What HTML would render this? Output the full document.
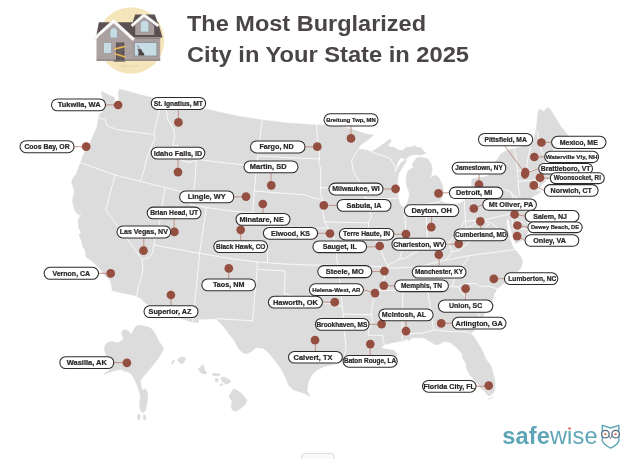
<!DOCTYPE html>
<html><head><meta charset="utf-8"><title>The Most Burglarized City in Your State in 2025</title>
<style>
html,body{margin:0;padding:0;background:#fff;}
body{width:640px;height:459px;overflow:hidden;position:relative;font-family:"Liberation Sans",sans-serif;}
svg{position:absolute;left:0;top:0;display:block}
.lb rect{fill:#fff;stroke:#2e2a2a;stroke-width:1.05}
.lb text{fill:#2a2626;stroke:#2a2626;stroke-width:0.22;font-weight:700;text-anchor:middle;font-family:"Liberation Sans",sans-serif}
.ttl{font-family:"Liberation Sans",sans-serif;font-weight:700;fill:#4b4646}
</style></head><body>
<svg width="640" height="459" viewBox="0 0 640 459">
<rect width="640" height="459" fill="#fff"/>
<g id="house">
<circle cx="131" cy="40.5" r="33.3" fill="#f5e5ba"/>
<!-- main roof -->
<path d="M98.8 22.2 L158.2 22.2 L162.4 37.6 L96 37.6 Z" fill="#5b5051"/>
<!-- main wall -->
<rect x="96.7" y="37.4" width="63.5" height="23.4" fill="#a79e9d"/>
<rect x="133" y="37.4" width="27.2" height="1.6" fill="#8f8685"/>
<!-- gable wall -->
<path d="M113.6 22.4 L131.5 39.5 L131.5 60.8 L96.7 60.8 L96.7 39 Z" fill="#aaa1a0"/>
<rect x="96.7" y="59.2" width="63.5" height="1.7" fill="#958c8b"/>
<!-- gable trim -->
<path d="M113.6 18.9 L134.8 38.6 L132.9 40.9 L113.6 23.3 L94.4 40.6 L92.6 38.3 Z" fill="#fbfafa" stroke="#e4dfdf" stroke-width="0.3"/>
<!-- dormer -->
<path d="M135.2 14.5 L154.8 14.5 L158.8 25.8 L131.5 25.8 Z" fill="#5b5051"/>
<path d="M144 17 L154.2 25.5 L154.2 35 L135.2 35 L135.2 25 Z" fill="#a79e9d"/>
<path d="M144 13.2 L159.2 24.8 L157.6 26.9 L144 17 L132.5 26.9 L130.8 24.8 Z" fill="#fbfafa" stroke="#e4dfdf" stroke-width="0.3"/>
<!-- dormer window -->
<path d="M140.4 32 L140.4 24.4 Q140.4 20.4 144.6 20.4 Q148.8 20.4 148.8 24.4 L148.8 32 Z" fill="#c6dde5" stroke="#9a9a9e" stroke-width="0.7"/>
<!-- gable window -->
<path d="M110 38 L110 31.4 Q110 27.6 113.7 27.6 Q117.4 27.6 117.4 31.4 L117.4 38 Z" fill="#c6dde5" stroke="#9a9a9e" stroke-width="0.7"/>
<!-- lower-left window -->
<rect x="103.5" y="42.6" width="8.1" height="10.7" fill="#c6dde5" stroke="#9a9a9e" stroke-width="0.7"/>
<!-- big window -->
<rect x="134.3" y="42.6" width="22.6" height="13.4" fill="#c6dde5" stroke="#8b8b8f" stroke-width="0.8"/>
<path d="M138.2 55.6 L138.6 51.5 L137.2 48.5 L138.9 49.8 L138.6 46.2 L139.8 49.6 L141.2 49 L142.1 51.6 L143.9 53.2 L144.4 55.6 Z" fill="#4d4546"/>
<path d="M136.6 44.8 L138.3 47.6 M138.9 45.4 L139.1 47.2" stroke="#6b6566" stroke-width="0.35" fill="none"/>
<!-- door -->
<rect x="116" y="42.5" width="8.4" height="17.6" fill="#5b5051"/>
<rect x="117.2" y="43.6" width="6" height="15.8" fill="#6a5f60"/>
<circle cx="123" cy="52.3" r="0.55" fill="#2f2a2a"/>
<path d="M114.3 48.3 L125.8 45.4 L125.8 46.9 L114.3 49.9 Z" fill="#e9bb55"/>
<path d="M114.3 52.9 L125.8 56.2 L125.8 57.8 L114.3 54.5 Z" fill="#e9bb55"/>
<rect x="113.6" y="60.2" width="11.6" height="1.5" fill="#6f6667"/>
<!-- debris -->
<path d="M120 65.2 l3 .4 l1 -.6 M125 66 l2.4 .2 M128.6 65 l1.2 1.2 l2 -.4 M133.5 66.3 l2.5 .1 M137 65.4 l1.6 .8 M122.5 66.8 l1.5 .3" stroke="#cfc19f" stroke-width="0.5" fill="none" stroke-linecap="round"/>
</g>

<text class="ttl" x="187" y="30.6" font-size="21.6" textLength="239" lengthAdjust="spacingAndGlyphs">The Most Burglarized</text>
<text class="ttl" x="187" y="62.1" font-size="21.6" textLength="282" lengthAdjust="spacingAndGlyphs">City in Your State in 2025</text>
<g fill="#dcdcdc" stroke="#dcdcdc" stroke-width="0.6" stroke-linejoin="round">
<path d="M101.8 91.4 L105.7 93.4 L110.4 95.8 L114.3 97.3 L115.1 98.9 L113.8 102 L114.6 105.5 L117 107 L118.6 104 L119 99.7 L118.2 94.2 L119.4 89.1 L140 94.8 L160 99.5 L182 104.3 L205 109 L222 112.8 L240 116.5 L262 120 L287 123 L316 125 L337 126 L345 127.4 L356 130.6 L365.5 133.7 L373.4 135.2 L369 139 L364 142.5 L360 145.5 L357.6 150.2 L361 149.2 L364.5 150 L368.5 150.6 L372.7 151.2 L378.4 147.6 L384 143.4 L388.3 140.3 L390.4 139.5 L391.3 140.8 L388 145.5 L389.4 146.9 L394 147.3 L398.8 150.2 L402.5 150.6 L406.3 147.3 L412.8 146.9 L414.7 145 L415.6 147.3 L421.3 147.8 L424 151.6 L426 153.4 L422.2 154.4 L419.4 155.3 L417.5 154.4 L411.9 154.8 L408.1 156.7 L405.3 160 L403.4 158.1 L400.2 158.1 L397.8 161.9 L396.4 166.6 L394 171.3 L395.6 172.4 L397.6 168 L400.8 163 L404.6 160.2 L405.6 159.8 L406.4 160.8 L402.4 167.4 L398.9 173 L397.5 178.7 L397.2 188.8 L398.2 198 L400.3 204.7 L402.2 206.6 L405 206.6 L407.8 201.9 L409.5 194.4 L408.5 190 L406.7 185.8 L406 178.7 L407.4 171.7 L410.5 169 L413.7 167.4 L412.2 165 L413 162.5 L415.2 160 L416.6 157.8 L422.2 157.5 L427.9 159 L430.7 163.2 L432.1 168.8 L431.4 174.5 L429.3 179.5 L432.1 176.6 L435.7 175.2 L439.2 178 L442 184.4 L443.3 190 L442.5 196 L440 201 L446 203.2 L453 204.3 L460 203.6 L464 200.5 L466 196 L468.5 190.5 L471.6 186.8 L471.8 179.3 L476 178.2 L482 177.5 L488 176 L491 171 L492.2 164.7 L496.9 160 L500.6 154.4 L506.3 150.6 L514.7 148.4 L524 146 L532.5 144 L534.4 137.5 L536.3 130 L537.2 120.6 L538.1 111.3 L540 109.2 L543.8 111.5 L547.5 107.5 L550.3 109.4 L555 116.9 L560.6 126.3 L566.3 133.1 L568.1 135.8 L565 139.5 L560 144 L554 148.5 L548 153.5 L545.3 158 L545 162 L547 167 L549 171.5 L553.5 173 L555 176 L551 177.5 L547 179.5 L543 183 L539 188.4 L535.3 192.3 L540 190.5 L541 192 L533 196.5 L527 199.5 L525.5 204 L524.8 210 L526 216 L527 222 L528 228 L527 234 L524 238.5 L519.5 241.8 L515.3 243.4 L513.6 239 L511.6 232 L509.9 225 L508.7 219.6 L507.4 218.2 L506.5 221.5 L507.3 228 L509.2 236 L511.2 242.5 L512.8 247 L514.7 249.2 L518.2 253.4 L521.7 258.3 L522.4 263.3 L520.3 269 L516 272.5 L509 278 L502.6 284.5 L497 288.7 L494 294.4 L492.4 301 L488.5 308 L484.7 313 L480 321 L474.4 330 L470.6 333.8 L473.3 336 L477.7 342.8 L482.4 350.7 L485.5 358.5 L491 366.3 L493.4 374.2 L495 382 L494.8 388 L494.2 391.4 L492.5 394 L490.2 395.5 L488 395.3 L486.3 393.8 L484 390.6 L480.8 388.3 L475.3 380.5 L469.9 375 L466.7 368.7 L465.9 363.2 L462.8 358.5 L462 353.8 L457.3 348.3 L451 342.8 L444.8 341.3 L438.5 344.4 L435 344.6 L432.2 342.8 L426 339 L422.5 337.8 L411.3 337.8 L409.4 340.8 L406.5 339 L403.8 340.8 L397 341.8 L392 342.8 L384.4 344.7 L380.6 347.5 L385 349 L393.8 350.3 L397.5 354.5 L394 358 L388 357 L382 359.5 L374 358 L366 359.5 L356 358.5 L349 360 L343 360.6 L333.8 364.4 L324.4 366.3 L316.9 370 L311.3 375.6 L308 383 L307 390.6 L310 396.3 L305 393.8 L299 391.5 L293.8 390 L288.5 385 L285.3 376.5 L280.6 368 L275 360.6 L269.4 353.5 L263.8 348.6 L256.3 347.5 L251.6 351.3 L246.9 354 L242.5 352.5 L239.4 349.4 L233.8 340 L228 332.5 L222.5 325 L216 318.8 L198.6 319.2 L198.3 322.6 L192.6 322.2 L183.4 319.2 L170 314.5 L158 309.8 L146.2 303.8 L141 298.6 L137 296.2 L133.8 295.3 L122 292.8 L112.2 290.6 L111.5 285 L110.3 280.3 L104.7 275.6 L100 268.5 L92.5 261.6 L86 256.9 L85 249.4 L82.8 247.3 L81.3 240 L79 235 L81 232.3 L79 228.5 L78.1 220 L80 216.5 L81.9 214.4 L78.6 215 L75.3 211.6 L73.5 206 L72.5 200.4 L74.4 191 L71.6 182.6 L73 178 L76.3 174 L80 164 L83.8 153.8 L90.3 142.5 L94 134 L96.9 127.5 L98.4 118.5 L99.5 114.2 L103.2 111.4 L103.2 104 L102.6 98 L101.8 95Z"/>
<path d="M137.5 325 L143.8 326 L150 327.5 L153.8 331.3 L156.9 337.5 L158.8 341.3 L163.8 348.6 L160.6 354.4 L158.8 357.5 L150 368.8 L142.5 377.5 L140.3 381.3 L141.3 386.5 L142.6 390.6 L144.5 389 L146.3 389.6 L147.4 393 L147.7 397.5 L147.2 402 L146.3 406.3 L145.5 410 L143.8 412.3 L141.5 412 L140.2 409.5 L139.6 402.5 L140.3 398 L140 394 L138.8 390 L137.5 386.3 L136.2 383 L135 380 L131.3 373.8 L127.5 371.6 L124 371.2 L122.5 369.2 L119.4 369.6 L115 370.6 L111.9 371.5 L106.3 373.4 L103.6 374.3 L107.5 371.6 L112 368.6 L110 365 L108 360 L106.3 355.3 L104.4 349.7 L105.2 345 L108.1 342.3 L111.9 341.3 L116 342.8 L118.8 342.5 L121.6 340.8 L123.8 338.8 L122.3 335.5 L121.3 332.5 L122.8 330.5 L125 329.5 L128.8 331.3 L131.3 334.8 L133 331 L135 327.5Z"/>
<path d="M233.7 388.9 L237.5 390.5 L241.5 393.6 L244.5 397 L247 400.6 L244.6 405.3 L240 408.8 L235.2 411.6 L232.6 410 L231.3 407.7 L232.1 401.4 L229 396.7 L231.3 392Z"/>
<path d="M177.6 359.1 L181.2 357.2 L184.8 357.2 L185.2 359.9 L182.7 363.8 L180.1 363 L177.6 360.7Z"/>
<path d="M171.3 363.5 L173.3 359.9 L174.6 360.4 L172.5 364.1Z"/>
<path d="M198.4 368.5 L201.1 366.9 L202.3 364.6 L203.9 366.2 L204.7 370.1 L207 373.2 L204.7 374 L201.1 372.9 L199.2 370.9Z"/>
<path d="M211.7 374 L214.9 373.2 L220.3 374 L219.6 375.6 L214.1 375.9Z"/>
<path d="M215.2 378.7 L218 378.4 L218.3 380.3 L216.7 382.6 L215.2 380.7Z"/>
<path d="M220.8 377.9 L223.5 377.1 L225.8 377.9 L229.7 379.8 L230.5 381.8 L228.2 383.4 L225.5 384.2 L223.9 382.3 L221.9 381Z"/>
<path d="M220 384.2 L222.4 383.4 L222.7 385 L220.8 386.1Z"/>
<path d="M137.8 414.5 L139.8 414 L140.2 417 L139 420.5 L137.6 419Z"/>
<path d="M143.3 415.2 L145.2 415 L146 418 L145 420.6 L143.6 419Z"/>
<path d="M491.2 397.6 l1.2 -0.6 l0.5 0.7 l-1.3 0.7z M488.6 398.6 l1.4 -0.4 l0.2 0.7 l-1.5 0.4z"/>
</g>
<g fill="none" stroke="#fff" stroke-width="0.8" stroke-linejoin="round" stroke-linecap="round">
<path d="M98.4 117.6 L105.5 120 L107 125.5 L116.4 129.4 L127.4 131 L138.4 132.5 L153.5 134.5"/>
<path d="M160.6 99.6 L159.7 109.7 L154 133 L155 138.8 L151.3 146.3 L147 157.5 L144 170 L140.5 181.3"/>
<path d="M80 162.5 L115 175 L140 181.3 L165 187.5 L180 191.3 L193.5 193.8"/>
<path d="M115 175 L105.8 210 L142.2 259.7"/>
<path d="M165 187.5 L160 220 L153.8 245 L152.8 252 L149.5 257.5 L142.8 259.7"/>
<path d="M142.2 259.7 L143 270 L141.3 277.5 L138.4 287 L136.8 296"/>
<path d="M166.3 101 L166.3 109.7 L168 120 L173.8 129.4 L174.7 136.9 L172.5 145.5 L177.5 145.3 L180 153 L182 160.5 L189 162.5 L196.3 160.5"/>
<path d="M196.5 159.6 L195.3 176 L193.5 193.8 L190.3 204.7"/>
<path d="M190.3 204.7 L206.3 207.5 L230 210.8 L252.5 213 L268.3 214.6"/>
<path d="M206.3 207.5 L199.6 253.3"/>
<path d="M196.3 159.4 L225 162.8 L256.5 166.5"/>
<path d="M262 120.3 L258 155.6 L256.5 166.5 L254.4 191 L252.5 213"/>
<path d="M258 155.8 L290 157.7 L320 159"/>
<path d="M254.4 191 L280 193 L305 194.7 L312.5 197.5 L318.8 199 L323 201"/>
<path d="M316.4 125 L317.6 138.9 L319 150 L319.7 158.8 L318.8 164.4 L320.6 168 L320.6 194.4 L323.4 200 L322.8 210.6 L323.4 215 L324.4 221.6 L328.4 228 L335 240.6 L336.6 253.8 L337.6 265.3"/>
<path d="M320.6 187.8 L356.5 188.2"/>
<path d="M324.4 221.6 L350 222.6 L368.4 222.7"/>
<path d="M268.3 214.6 L267.9 226.3 L300 227.6 L327.8 228.2"/>
<path d="M267.9 226.3 L267.5 262.6"/>
<path d="M153.8 245 L199.6 253.3 L230 258.5 L257 262 L285 264 L310 265 L337.6 265.3"/>
<path d="M199.6 253.3 L192.8 322"/>
<path d="M257 262 L257.2 269.3 L285.3 271 L284.4 293.5"/>
<path d="M257.2 269.3 L252.5 320.8"/>
<path d="M216 318.6 L252.5 320.8"/>
<path d="M284.4 293.5 L291.9 295.4 L300 298.5 L310 299 L320 302.5 L330 303.5 L342.3 306.5"/>
<path d="M337.6 265.3 L341 290 L342.3 306.5 L343.2 314 L344 328.8 L346 347.5 L345 352 L344 360"/>
<path d="M343.2 314 L372.2 314.7"/>
<path d="M337.6 265.3 L360 266 L381 266.5 L380.5 270.5 L385.5 271"/>
<path d="M357.6 150.2 L351.6 160.6 L353.4 171.9 L358 179.4 L362 184 L364.7 196.3 L369 204 L370.3 212.2 L371.3 217 L368.4 222.5 L369 231 L373 238 L378 243 L381 250 L385.3 261.3 L388 265 L386 271 L384.4 278 L380 288 L374 298.8 L372.2 306.3 L371.3 313.8 L372.5 322 L368.4 330.6 L368.4 335.3 L382.5 335.3 L383.5 341 L384.4 344.7"/>
<path d="M368.5 150.5 L379 154.6 L389.7 158.2 L393 162.5 L395.4 167.4"/>
<path d="M365 198.6 L398.2 198.4"/>
<path d="M404 206.6 L405.5 225 L406 236 L404 246 L401 254 L399.5 259"/>
<path d="M388 265 L393 262.5 L399.5 259 L406 258 L412 254 L418 251 L423 246 L428 243.5 L433 245.5 L439 248.5 L444 247 L449 243 L453 238 L458 233 L461.5 227 L463.5 221"/>
<path d="M426 204.5 L427.5 243.5"/>
<path d="M404.5 206.6 L426 204.5 L440 201.5"/>
<path d="M464.2 195.5 L465.3 221.5"/>
<path d="M465.3 221.5 L485 219.5 L502 215.8 L511.5 213.3"/>
<path d="M466.5 194 L485 192.3 L505 189.5 L511 192 L514 196 L517.5 199.5"/>
<path d="M511 192 L513.5 200 L512 206 L515.5 210.5 L512.5 214.5 L517 220 L524 223"/>
<path d="M514 196 L524 201.5"/>
<path d="M388 268 L400 267.8 L420 266.5 L446.9 259.7 L470 255.5 L495 252.3 L516.5 249.3"/>
<path d="M379 290.3 L400 290.4 L420 290.3 L440 288.5 L452 286.5"/>
<path d="M470 255.5 L463 265 L456 275 L452 286.5"/>
<path d="M403 290.4 L402.2 320 L402.2 341"/>
<path d="M427.6 290 L430.8 310 L433 326 L434 330"/>
<path d="M402.2 334.3 L423 333 L434 330 L450 331.5 L468 332 L470.6 333.8"/>
<path d="M452 286.5 L458 287 L463 294 L470 302 L476 310 L481 319"/>
<path d="M458 287 L466 283.5 L476 283.5 L480 286.5 L488 286 L497 288.8"/>
<path d="M449 243 L452 252 L447 258.5"/>
<path d="M452 252 L460 250 L468 243 L476 236 L484 229.5 L489 224"/>
<path d="M465.3 221.5 L466 228 L472 226 L478 221"/>
<path d="M478 221 L486 221.5 L492 223.5 L497 228 L501 233 L506 237 L510.5 240"/>
<path d="M511.5 213.3 L513.5 229.5 L527 229"/>
<path d="M514.4 149 L516 158 L517 166 L517.8 175 L518.5 188 L520 196"/>
<path d="M530.7 147.5 L528.5 155 L527 163 L526.3 171"/>
<path d="M517.4 170.5 L526.3 171 L540 169 L547 166.5"/>
<path d="M518 181.5 L530 180.5 L538.5 179.5"/>
<path d="M538.5 179.5 L538.5 188.5"/>
<path d="M538.5 179.5 L543 177.5 L546 180"/>
<path d="M546.5 157.5 L541 150 L539 140 L537 131"/>
</g>
<g stroke="#b57f70" stroke-width="0.8"><line x1="105.5" y1="104.9" x2="118.1" y2="104.9"/><line x1="74.0" y1="146.7" x2="86.2" y2="146.7"/><line x1="178.4" y1="109.4" x2="178.4" y2="122.4"/><line x1="178.0" y1="159.0" x2="178.0" y2="172.1"/><line x1="305.0" y1="146.9" x2="317.3" y2="146.9"/><line x1="271.0" y1="172.8" x2="271.0" y2="185.3"/><line x1="233.8" y1="196.9" x2="246.0" y2="196.9"/><line x1="263.0" y1="213.4" x2="263.0" y2="204.0"/><line x1="174.1" y1="218.8" x2="174.1" y2="231.9"/><line x1="143.8" y1="237.9" x2="143.8" y2="250.7"/><line x1="240.7" y1="240.7" x2="240.7" y2="229.8"/><line x1="317.6" y1="233.3" x2="330.0" y2="233.3"/><line x1="98.5" y1="273.3" x2="110.7" y2="273.3"/><line x1="171.0" y1="305.7" x2="171.0" y2="295.0"/><line x1="228.7" y1="279.0" x2="228.7" y2="268.4"/><line x1="113.8" y1="362.6" x2="126.9" y2="362.6"/><line x1="351.0" y1="125.9" x2="351.0" y2="138.4"/><line x1="383.0" y1="189.0" x2="395.6" y2="189.0"/><line x1="337.1" y1="205.4" x2="323.8" y2="205.4"/><line x1="393.8" y1="234.2" x2="406.0" y2="234.2"/><line x1="366.6" y1="246.8" x2="379.7" y2="246.8"/><line x1="371.8" y1="271.6" x2="384.4" y2="271.6"/><line x1="363.4" y1="289.7" x2="375.0" y2="293.1"/><line x1="394.7" y1="285.8" x2="383.8" y2="285.8"/><line x1="322.4" y1="302.2" x2="334.7" y2="302.2"/><line x1="369.0" y1="324.4" x2="381.6" y2="324.4"/><line x1="406.0" y1="320.8" x2="406.0" y2="331.1"/><line x1="315.4" y1="351.4" x2="315.4" y2="340.2"/><line x1="370.1" y1="355.4" x2="370.1" y2="344.1"/><line x1="476.0" y1="386.3" x2="488.7" y2="386.3"/><line x1="452.3" y1="323.2" x2="441.2" y2="323.2"/><line x1="465.6" y1="300.0" x2="465.6" y2="288.6"/><line x1="504.4" y1="278.7" x2="493.8" y2="278.7"/><line x1="439.1" y1="266.3" x2="439.1" y2="254.6"/><line x1="445.7" y1="244.2" x2="458.7" y2="244.2"/><line x1="431.6" y1="216.5" x2="431.6" y2="227.2"/><line x1="449.4" y1="192.8" x2="438.5" y2="192.8"/><line x1="479.0" y1="174.0" x2="479.0" y2="184.6"/><line x1="482.8" y1="204.6" x2="473.8" y2="208.5"/><line x1="480.8" y1="229.0" x2="480.8" y2="221.3"/><line x1="504.5" y1="145.7" x2="525.2" y2="173.2"/><line x1="551.6" y1="142.4" x2="541.4" y2="142.4"/><line x1="544.7" y1="156.9" x2="534.3" y2="156.9"/><line x1="538.7" y1="168.8" x2="525.2" y2="173.2"/><line x1="550.3" y1="178.2" x2="540.0" y2="178.2"/><line x1="544.3" y1="190.6" x2="533.8" y2="185.4"/><line x1="525.2" y1="216.1" x2="514.6" y2="214.3"/><line x1="527.9" y1="227.3" x2="517.4" y2="225.5"/><line x1="525.0" y1="240.5" x2="517.1" y2="236.1"/></g>
<g fill="#954f40"><circle cx="118.1" cy="105" r="4.35"/><circle cx="86.2" cy="146.6" r="4.35"/><circle cx="178.4" cy="122.4" r="4.35"/><circle cx="178" cy="172.1" r="4.35"/><circle cx="317.3" cy="146.7" r="4.35"/><circle cx="271.3" cy="185.3" r="4.35"/><circle cx="246" cy="196.6" r="4.35"/><circle cx="262.8" cy="204" r="4.35"/><circle cx="174.4" cy="231.9" r="4.35"/><circle cx="143.5" cy="250.7" r="4.35"/><circle cx="240.7" cy="229.8" r="4.35"/><circle cx="330" cy="233.5" r="4.35"/><circle cx="110.7" cy="273.4" r="4.35"/><circle cx="170.9" cy="295" r="4.35"/><circle cx="228.8" cy="268.4" r="4.35"/><circle cx="126.9" cy="362.8" r="4.35"/><circle cx="351" cy="138.4" r="4.35"/><circle cx="395.6" cy="188.8" r="4.35"/><circle cx="323.8" cy="205.4" r="4.35"/><circle cx="406" cy="234.1" r="4.35"/><circle cx="379.7" cy="246" r="4.35"/><circle cx="384.4" cy="271.2" r="4.35"/><circle cx="375" cy="293.1" r="4.35"/><circle cx="383.8" cy="285.6" r="4.35"/><circle cx="334.7" cy="302.2" r="4.35"/><circle cx="381.6" cy="324.1" r="4.35"/><circle cx="406" cy="331.1" r="4.35"/><circle cx="315" cy="340.2" r="4.35"/><circle cx="370.3" cy="344.1" r="4.35"/><circle cx="488.7" cy="385.6" r="4.35"/><circle cx="441.2" cy="323.4" r="4.35"/><circle cx="465.6" cy="288.6" r="4.35"/><circle cx="493.8" cy="278.8" r="4.35"/><circle cx="438.8" cy="254.6" r="4.35"/><circle cx="458.7" cy="243.8" r="4.35"/><circle cx="431.3" cy="227.2" r="4.35"/><circle cx="438.5" cy="193.4" r="4.35"/><circle cx="479" cy="184.6" r="4.35"/><circle cx="473.8" cy="208.5" r="4.35"/><circle cx="480.3" cy="221.3" r="4.35"/><ellipse cx="525.2" cy="173.2" rx="4.2" ry="5.6" transform="rotate(8 525.2 173.2)"/><circle cx="541.4" cy="142.5" r="4.35"/><circle cx="534.3" cy="157" r="4.35"/><circle cx="540" cy="177.7" r="4.35"/><circle cx="533.8" cy="185.4" r="4.35"/><circle cx="514.6" cy="214.3" r="4.35"/><circle cx="517.4" cy="225.5" r="4.35"/><circle cx="517.1" cy="236.1" r="4.35"/></g>
<g class="lb"><rect x="51.5" y="99" width="54.0" height="11.8" rx="5.90"/><text x="79.2" y="107.39" font-size="7.43">Tukwila, WA</text><rect x="20" y="140.7" width="54.0" height="12.0" rx="6.00"/><text x="47.0" y="149.00" font-size="6.87">Coos Bay, OR</text><rect x="151.3" y="97.5" width="54.3" height="11.9" rx="5.95"/><text x="178.4" y="105.68" font-size="6.65">St. Ignatius, MT</text><rect x="151.2" y="147.2" width="53.6" height="11.8" rx="5.90"/><text x="178.0" y="155.50" font-size="7.16">Idaho Falls, ID</text><rect x="250.5" y="140.9" width="54.5" height="12.1" rx="6.05"/><text x="276.6" y="149.36" font-size="7.18">Fargo, ND</text><rect x="244" y="161" width="54.0" height="11.8" rx="5.90"/><text x="268.2" y="169.39" font-size="7.44">Martin, SD</text><rect x="179.6" y="191" width="54.2" height="11.8" rx="5.90"/><text x="206.7" y="199.40" font-size="7.45">Lingle, WY</text><rect x="236" y="213.4" width="54.0" height="11.9" rx="5.95"/><text x="261.6" y="221.81" font-size="7.33">Minatare, NE</text><rect x="147.2" y="207.1" width="53.8" height="11.7" rx="5.85"/><text x="174.1" y="215.19" font-size="6.70">Brian Head, UT</text><rect x="117" y="226" width="53.7" height="11.9" rx="5.95"/><text x="143.8" y="234.32" font-size="7.06">Las Vegas, NV</text><rect x="213.8" y="240.7" width="53.7" height="11.8" rx="5.90"/><text x="240.7" y="248.78" font-size="6.51">Black Hawk, CO</text><rect x="263.4" y="227.5" width="54.2" height="11.7" rx="5.85"/><text x="290.5" y="235.73" font-size="7.09">Elwood, KS</text><rect x="44.1" y="267.3" width="54.4" height="12.0" rx="6.00"/><text x="71.3" y="275.65" font-size="7.01">Vernon, CA</text><rect x="144" y="305.7" width="54.0" height="11.8" rx="5.90"/><text x="170.0" y="314.04" font-size="7.28">Superior, AZ</text><rect x="201.8" y="279" width="53.7" height="11.8" rx="5.90"/><text x="228.7" y="287.31" font-size="7.18">Taos, NM</text><rect x="59.8" y="356.7" width="54.0" height="11.8" rx="5.90"/><text x="86.8" y="365.10" font-size="7.45">Wasilla, AK</text><rect x="324" y="113.8" width="54.0" height="12.1" rx="6.05"/><text x="351.0" y="121.81" font-size="5.86">Breitung Twp, MN</text><rect x="329" y="183.1" width="54.0" height="11.8" rx="5.90"/><text x="356.0" y="191.35" font-size="7.01">Milwaukee, WI</text><rect x="337.1" y="199.4" width="53.9" height="11.9" rx="5.95"/><text x="364.1" y="207.78" font-size="7.24">Sabula, IA</text><rect x="339.4" y="228.4" width="54.4" height="11.5" rx="5.75"/><text x="366.6" y="236.39" font-size="6.68">Terre Haute, IN</text><rect x="312.9" y="241" width="53.7" height="11.6" rx="5.80"/><text x="339.8" y="249.20" font-size="7.16">Sauget, IL</text><rect x="317.8" y="265.6" width="54.0" height="12.0" rx="6.00"/><text x="344.8" y="274.10" font-size="7.45">Steele, MO</text><rect x="309.4" y="283.8" width="54.0" height="11.8" rx="5.90"/><text x="336.4" y="291.73" font-size="6.07">Helena-West, AR</text><rect x="394.7" y="279.9" width="53.7" height="11.7" rx="5.85"/><text x="421.5" y="287.96" font-size="6.59">Memphis, TN</text><rect x="268.4" y="296.3" width="54.0" height="11.8" rx="5.90"/><text x="295.4" y="304.70" font-size="7.45">Haworth, OK</text><rect x="315.4" y="318.5" width="53.6" height="11.8" rx="5.90"/><text x="341.9" y="326.58" font-size="6.51">Brookhaven, MS</text><rect x="378.8" y="309" width="54.3" height="11.8" rx="5.90"/><text x="404.0" y="317.29" font-size="7.13">McIntosh, AL</text><rect x="288.5" y="351.4" width="53.8" height="11.6" rx="5.80"/><text x="313.0" y="359.69" font-size="7.45">Calvert, TX</text><rect x="343.1" y="355.4" width="54.1" height="11.8" rx="5.90"/><text x="370.1" y="363.46" font-size="6.45">Baton Rouge, LA</text><rect x="422.5" y="380.4" width="53.5" height="11.8" rx="5.90"/><text x="449.2" y="388.70" font-size="7.15">Florida City, FL</text><rect x="452.3" y="317.3" width="53.7" height="11.8" rx="5.90"/><text x="479.1" y="325.64" font-size="7.29">Arlington, GA</text><rect x="438.4" y="300" width="54.4" height="12.2" rx="6.10"/><text x="465.6" y="308.43" font-size="6.95">Union, SC</text><rect x="504.4" y="272.8" width="53.4" height="11.8" rx="5.90"/><text x="532.3" y="280.93" font-size="6.65">Lumberton, NC</text><rect x="412.2" y="266.3" width="53.8" height="11.8" rx="5.90"/><text x="439.1" y="274.36" font-size="6.45">Manchester, KY</text><rect x="391.9" y="238.3" width="53.8" height="11.9" rx="5.95"/><text x="418.8" y="246.57" font-size="6.93">Charleston, WV</text><rect x="404.4" y="204.8" width="54.4" height="11.7" rx="5.85"/><text x="431.6" y="213.14" font-size="7.42">Dayton, OH</text><rect x="449.4" y="187.1" width="53.4" height="11.4" rx="5.70"/><text x="474.2" y="195.30" font-size="7.45">Detroit, MI</text><rect x="452.2" y="162.2" width="53.6" height="11.8" rx="5.90"/><text x="479.0" y="170.25" font-size="6.41">Jamestown, NY</text><rect x="482.8" y="199" width="53.6" height="11.3" rx="5.65"/><text x="511.1" y="207.10" font-size="7.32">Mt Oliver, PA</text><rect x="454" y="229" width="53.5" height="11.8" rx="5.90"/><text x="480.8" y="237.08" font-size="6.51">Cumberland, MD</text><rect x="478.5" y="133.4" width="54.2" height="12.3" rx="6.15"/><text x="505.6" y="141.79" font-size="6.68">Pittsfield, MA</text><rect x="551.6" y="136.3" width="54.4" height="12.1" rx="6.05"/><text x="578.8" y="144.71" font-size="7.03">Mexico, ME</text><rect x="544.7" y="151.3" width="53.8" height="11.3" rx="5.65"/><text x="571.6" y="159.03" font-size="6.20">Waterville Vly, NH</text><rect x="538.7" y="163.4" width="53.8" height="10.6" rx="5.30"/><text x="565.6" y="171.01" font-size="6.88">Brattleboro, VT</text><rect x="550.3" y="172.8" width="54.0" height="10.8" rx="5.40"/><text x="577.3" y="180.32" font-size="6.32">Woonsocket, RI</text><rect x="544.3" y="184.6" width="53.8" height="11.7" rx="5.85"/><text x="571.2" y="192.82" font-size="7.08">Norwich, CT</text><rect x="525.2" y="210.4" width="53.8" height="11.5" rx="5.75"/><text x="550.1" y="218.53" font-size="7.09">Salem, NJ</text><rect x="527.9" y="222" width="54.3" height="10.6" rx="5.30"/><text x="555.0" y="229.22" font-size="5.74">Dewey Beach, DE</text><rect x="525" y="234.8" width="53.8" height="11.4" rx="5.70"/><text x="549.6" y="242.90" font-size="7.17">Onley, VA</text></g>
<g id="logo">
<text x="502.3" y="444.4" font-family="'Liberation Sans',sans-serif" font-size="23.6" fill="#5ea5b8" textLength="95.2" lengthAdjust="spacing"><tspan font-weight="700">safe</tspan><tspan font-weight="400">wise</tspan></text>
<circle cx="569.6" cy="428.3" r="1.6" fill="#fff"/>
<circle cx="569.6" cy="428.5" r="1.35" fill="#e0715f"/>
<g fill="none" stroke-linejoin="round" stroke-linecap="round">
<path d="M602.3 425.3 L610.6 428 L618.8 425.3 L618.8 440.6 Q618 444.6 610.6 448.1 Q603.2 444.6 602.3 440.6 Z" stroke="#5ea5b8" stroke-width="1.4"/>
<circle cx="605.4" cy="434.2" r="3.75" fill="#fff" stroke="#4f6b7c" stroke-width="1.3"/>
<circle cx="615.6" cy="434.2" r="3.75" fill="#fff" stroke="#4f6b7c" stroke-width="1.3"/>
<path d="M609.6 436.6 L610.5 438.6 L611.4 436.6" stroke="#4f6b7c" stroke-width="0.9"/>
</g>
<circle cx="605.4" cy="434.2" r="1.15" fill="#dc6d5e"/>
<circle cx="615.6" cy="434.2" r="1.15" fill="#dc6d5e"/>
</g>

<rect x="302" y="453.5" width="32" height="12" rx="3" fill="#fafafa" stroke="#dedede" stroke-width="1"/>
</svg>
</body></html>
